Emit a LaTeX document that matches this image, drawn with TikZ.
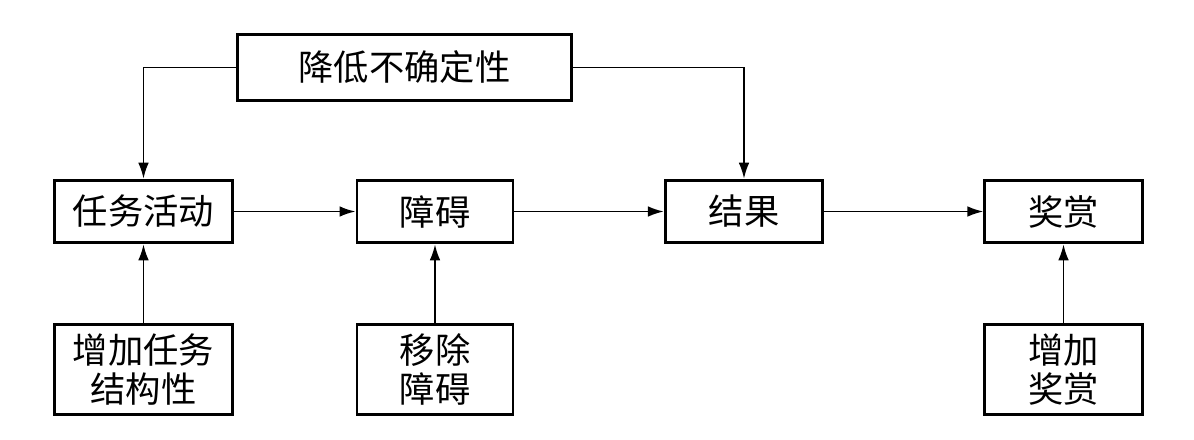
\documentclass[tikz,border=0pt]{standalone}
\usepackage{fontspec}
\newfontfamily\cjk{Noto Sans CJK SC}
\usetikzlibrary{arrows.meta}
\begin{document}
\begin{tikzpicture}[x=0.75pt,y=-0.75pt,
  box/.style={draw,line width=2.2pt,inner sep=0pt,align=center,font=\cjk\fontsize{26.5}{29}\selectfont},
  rowbox/.style={box,minimum height=47pt},
  lowbox/.style={box,minimum height=68pt},
  arr/.style={line width=1.4pt,-{Latex[length=12pt,width=8pt]}}]
\useasboundingbox (0,0) rectangle (1194,439);
\node[box,minimum width=250pt,minimum height=49pt] (top) at (404.5,67.5) {降低不确定性};
\node[rowbox,minimum width=133pt] (task) at (143.5,211.5) {任务活动};
\node[rowbox,minimum width=117pt] (obs) at (435,211.5) {障碍};
\node[rowbox,minimum width=118pt] (res) at (744,211.5) {结果};
\node[rowbox,minimum width=118pt] (rew) at (1063.5,211.5) {奖赏};
\node[lowbox,minimum width=133pt] (inc) at (143.5,369.5) {增加任务\\结构性};
\node[lowbox,minimum width=117pt] (rem) at (435,369.5) {移除\\障碍};
\node[lowbox,minimum width=118pt] (add) at (1063.5,369.5) {增加\\奖赏};
\draw[arr] (top.west) -| (task.north);
\draw[arr] (top.east) -| (res.north);
\draw[arr] (task.east) -- (obs.west);
\draw[arr] (obs.east) -- (res.west);
\draw[arr] (res.east) -- (rew.west);
\draw[arr] (inc.north) -- (task.south);
\draw[arr] (rem.north) -- (obs.south);
\draw[arr] (add.north) -- (rew.south);
\end{tikzpicture}
\end{document}
